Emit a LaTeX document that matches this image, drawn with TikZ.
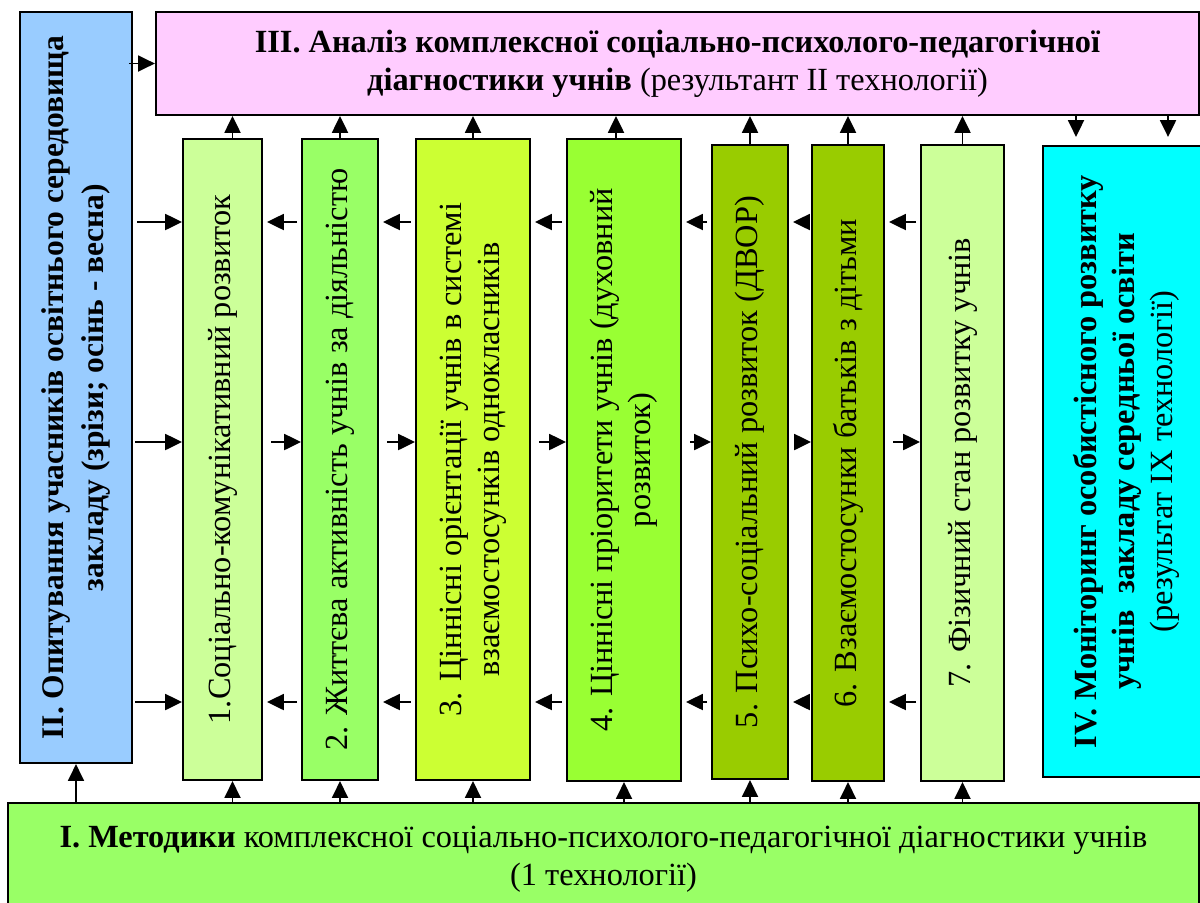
\documentclass[tikz,border=0pt]{standalone}
\usepackage{fontspec}
\setmainfont{Liberation Serif}
\usetikzlibrary{arrows.meta,positioning}

\definecolor{opblue}{HTML}{99CCFF}
\definecolor{anpink}{HTML}{FFCCFF}
\definecolor{paleg}{HTML}{CCFF99}
\definecolor{brightg}{HTML}{99FF66}
\definecolor{limeg}{HTML}{CCFF33}
\definecolor{midg}{HTML}{99FF33}
\definecolor{oliveg}{HTML}{99CC00}
\definecolor{moncyan}{HTML}{00FFFF}

\tikzset{
  blk/.style={draw, line width=1.4pt, inner sep=2pt, align=center,
    font=\fontsize{23}{27}\selectfont},
  vblk/.style={blk, rotate=90},
  arr/.style={-{Triangle[length=0.42cm,width=0.4cm]}, line width=1.3pt},
}

\begin{document}
\begin{tikzpicture}[x=0.025cm, y=-0.025cm]

  \useasboundingbox (0,0) rectangle (1200,902);

  % Define nodes

  % III: analysis (top)
  \node[blk, fill=anpink, minimum width=26.075cm, minimum height=2.575cm] (III) at (677.5,63.5)
    {\textbf{III. Аналіз комплексної соціально-психолого-педагогічної}\\
     \textbf{діагностики учнів} (результант II технології)}; %

  % II: survey (left)
  \node[vblk, fill=opblue, minimum width=18.775cm, minimum height=2.8cm,
        font=\fontsize{22.4}{28}\selectfont] (II) at (76,387.5)
    {\textbf{II. Опитування учасників освітнього середовища}\\
     \textbf{закладу (зрізи; осінь - весна)}}; %

  % 1..7 directions
  \node[vblk, fill=paleg, minimum width=16.025cm, minimum height=1.975cm] (b1) at (222.5,459.5)
    {1.Соціально-комунікативний розвиток}; %
  \node[vblk, fill=brightg, minimum width=16.025cm, minimum height=1.9cm] (b2) at (340,459.5)
    {2. Життєва активність учнів за діяльністю}; %
  \node[vblk, fill=limeg, minimum width=16.025cm, minimum height=2.85cm] (b3) at (473,459.5)
    {3. Ціннісні орієнтації учнів в системі\\ взаємостосунків однокласників}; %
  \node[vblk, fill=midg, minimum width=16.05cm, minimum height=2.85cm] (b4) at (624,460)
    {4. Ціннісні пріоритети учнів (духовний\\ розвиток)}; %
  \node[vblk, fill=oliveg, minimum width=15.85cm, minimum height=1.9cm] (b5) at (750,462)
    {5. Психо-соціальний розвиток (ДВОР)}; %
  \node[vblk, fill=oliveg, minimum width=15.9cm, minimum height=1.8cm] (b6) at (848,463)
    {6. Взаємостосунки батьків з дітьми}; %
  \node[vblk, fill=paleg, minimum width=15.9cm, minimum height=2.075cm] (b7) at (962.5,463)
    {7. Фізичний стан розвитку учнів}; %

  % IV: monitoring (right)
  \node[vblk, fill=moncyan, minimum width=15.775cm, minimum height=4.175cm] (IV) at (1126.5,461.5)
    {\textbf{IV. Моніторинг особистісного розвитку}\\
     \textbf{учнів\ \ закладу середньої освіти}\\
     (результат IX технології)}; %

  % I: methods (bottom)
  \node[blk, fill=brightg, minimum width=29.775cm, minimum height=2.8cm] (I) at (603.5,859)
    {\textbf{I. Методики} комплексної соціально-психолого-педагогічної діагностики учнів\\
     (1 технології)}; %

  % Rows of side arrows
  \coordinate (r1) at (0,222); %
  \coordinate (r2) at (0,442); %
  \coordinate (r3) at (0,702); %

  % (rotated boxes: .east is the top side, .west the bottom,
  %  .north the left side, .south the right side)

  % II to III
  \draw[arr] ([xshift=-0.1cm]II.south |- III.west) -- (III.west) ; %

  % 1..7 to III
  \draw[arr] ([xshift=0.25cm]b1.east) -- ([xshift=0.25cm]b1.east |- III.south) ; %
  \draw[arr] (b2.east) -- (b2.east |- III.south) ; %
  \draw[arr] (b3.east) -- (b3.east |- III.south) ; %
  \draw[arr] ([xshift=-0.2cm]b4.east) -- ([xshift=-0.2cm]b4.east |- III.south) ; %
  \draw[arr] (b5.east) -- (b5.east |- III.south) ; %
  \draw[arr] (b6.east) -- (b6.east |- III.south) ; %
  \draw[arr] (b7.east) -- (b7.east |- III.south) ; %

  % III to IV
  \draw[arr, shorten >=0.2cm] ([xshift=0.85cm]IV.north east |- III.south) -- ([xshift=0.85cm]IV.north east) ; %
  \draw[arr, shorten >=0.2cm] ([xshift=3.15cm]IV.north east |- III.south) -- ([xshift=3.15cm]IV.north east) ; %

  % I to II and to 1..7
  \draw[arr] (II.west |- I.north) -- (II.west) ; %
  \draw[arr] ([xshift=0.25cm]b1.west |- I.north) -- ([xshift=0.25cm]b1.west) ; %
  \draw[arr] (b2.west |- I.north) -- (b2.west) ; %
  \draw[arr] (b3.west |- I.north) -- (b3.west) ; %
  \draw[arr] (b4.west |- I.north) -- (b4.west) ; %
  \draw[arr] (b5.west |- I.north) -- (b5.west) ; %
  \draw[arr] (b6.west |- I.north) -- (b6.west) ; %
  \draw[arr] (b7.west |- I.north) -- (b7.west) ; %

  % Row 1 (leftwards)
  \draw[arr, shorten <=0.1cm] (II.south |- r1) -- (b1.north |- r1) ; %
  \draw[arr, shorten <=0.1cm, shorten >=0.1cm] (b2.north |- r1) -- (b1.south |- r1) ; %
  \draw[arr, shorten <=0.1cm, shorten >=0.1cm] (b3.north |- r1) -- (b2.south |- r1) ; %
  \draw[arr, shorten <=0.1cm, shorten >=0.1cm] (b4.north |- r1) -- (b3.south |- r1) ; %
  \draw[arr, shorten <=0.1cm, shorten >=0.1cm] (b5.north |- r1) -- (b4.south |- r1) ; %
  \draw[arr, shorten <=0.1cm, shorten >=0.1cm] (b6.north |- r1) -- (b5.south |- r1) ; %
  \draw[arr, shorten <=0.1cm, shorten >=0.1cm] (b7.north |- r1) -- (b6.south |- r1) ; %

  % Row 2 (rightwards)
  \draw[arr, shorten <=0.05cm] (II.south |- r2) -- (b1.north |- r2) ; %
  \draw[arr, shorten <=0.2cm] (b1.south |- r2) -- (b2.north |- r2) ; %
  \draw[arr, shorten <=0.2cm] (b2.south |- r2) -- (b3.north |- r2) ; %
  \draw[arr, shorten <=0.2cm] (b3.south |- r2) -- (b4.north |- r2) ; %
  \draw[arr, shorten <=0.2cm] (b4.south |- r2) -- (b5.north |- r2) ; %
  \draw[arr, shorten <=0.2cm] (b5.south |- r2) -- (b6.north |- r2) ; %
  \draw[arr, shorten <=0.2cm] (b6.south |- r2) -- (b7.north |- r2) ; %

  % Row 3 (leftwards)
  \draw[arr, shorten <=0.05cm] (II.south |- r3) -- (b1.north |- r3) ; %
  \draw[arr, shorten <=0.1cm, shorten >=0.1cm] (b2.north |- r3) -- (b1.south |- r3) ; %
  \draw[arr, shorten <=0.1cm, shorten >=0.1cm] (b3.north |- r3) -- (b2.south |- r3) ; %
  \draw[arr, shorten <=0.1cm, shorten >=0.1cm] (b4.north |- r3) -- (b3.south |- r3) ; %
  \draw[arr, shorten <=0.1cm, shorten >=0.1cm] (b5.north |- r3) -- (b4.south |- r3) ; %
  \draw[arr, shorten <=0.1cm, shorten >=0.1cm] (b6.north |- r3) -- (b5.south |- r3) ; %
  \draw[arr, shorten <=0.1cm, shorten >=0.1cm] (b7.north |- r3) -- (b6.south |- r3) ; %

\end{tikzpicture}
\end{document}
